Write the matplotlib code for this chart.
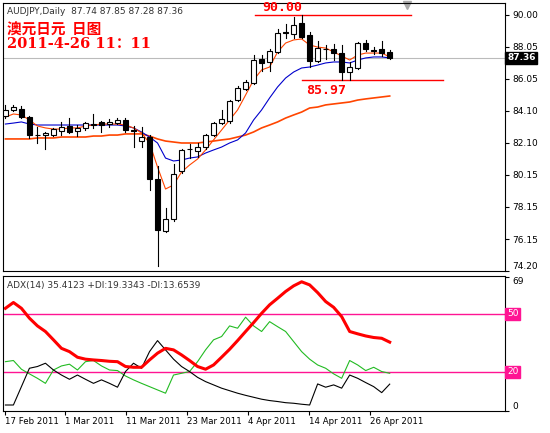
import numpy as np
import matplotlib.pyplot as plt
from matplotlib.patches import Rectangle

plt.rcParams['font.family'] = ['DejaVu Sans', 'Noto Sans CJK SC']

# ---- data ----
opens = [83.77, 84.14, 84.20, 83.70, 82.59, 82.59, 82.59, 82.84, 83.15, 82.84,
         83.03, 83.24, 83.40, 83.27, 83.33, 83.52, 82.93, 82.23, 82.47, 79.88,
         76.67, 77.41, 80.37, 81.73, 81.61, 81.85, 82.59, 83.33, 83.46, 84.75,
         85.43, 85.80, 87.28, 87.10, 87.72, 88.92, 88.83, 89.51, 88.77, 87.16,
         87.93, 87.90, 87.65, 86.48, 86.73, 88.27, 87.84, 87.90, 87.74]
highs = [84.45, 84.45, 84.38, 83.77, 83.09, 82.78, 83.03, 83.40, 83.64, 83.21,
         83.40, 83.89, 83.46, 83.58, 83.64, 83.64, 83.15, 83.09, 82.59, 80.68,
         78.09, 80.80, 81.73, 82.04, 82.10, 82.66, 83.40, 84.14, 84.75, 85.62,
         85.99, 87.53, 87.53, 87.90, 89.14, 89.44, 89.88, 90.00, 88.95, 88.40,
         88.15, 88.21, 88.15, 87.10, 88.33, 88.46, 88.02, 88.40, 87.85]
lows = [83.64, 84.08, 83.67, 82.41, 82.10, 81.73, 82.53, 82.59, 82.72, 82.53,
        82.90, 83.03, 82.78, 83.09, 83.27, 82.78, 81.85, 81.85, 79.20, 74.51,
        76.61, 77.29, 80.25, 81.17, 81.24, 81.73, 82.53, 83.27, 83.33, 84.69,
        85.37, 85.74, 86.54, 86.54, 87.65, 88.58, 88.58, 88.58, 86.79, 87.10,
        87.28, 87.22, 85.97, 86.00, 86.67, 87.78, 87.59, 87.47, 87.28]
closes = [84.14, 84.32, 83.70, 82.59, 82.62, 82.72, 82.96, 83.09, 82.78, 83.03,
          83.33, 83.27, 83.21, 83.40, 83.52, 82.90, 82.87, 82.47, 79.88, 76.73,
          77.41, 80.19, 81.67, 81.70, 81.85, 82.59, 83.33, 83.58, 84.69, 85.49,
          85.86, 87.22, 87.04, 87.78, 88.89, 88.86, 89.38, 88.64, 87.16, 87.96,
          87.90, 87.65, 86.48, 86.79, 88.27, 87.90, 87.78, 87.65, 87.36]

ma_fast = [83.70, 83.89, 83.83, 83.52, 83.15, 83.03, 82.96, 82.96, 83.03, 83.03,
           83.15, 83.21, 83.27, 83.27, 83.27, 83.21, 83.03, 82.72, 82.10, 80.62,
           79.26, 79.51, 80.31, 80.74, 81.11, 81.67, 82.29, 82.90, 83.52, 84.14,
           85.06, 85.99, 86.61, 86.79, 87.72, 88.27, 88.46, 88.52, 88.15, 88.02,
           87.96, 87.72, 87.47, 87.22, 87.53, 87.65, 87.65, 87.65, 87.41]
ma_mid = [83.27, 83.33, 83.40, 83.27, 83.21, 83.21, 83.21, 83.21, 83.21, 83.21,
          83.21, 83.21, 83.21, 83.21, 83.21, 83.15, 83.03, 82.78, 82.47, 82.10,
          81.17, 80.99, 81.05, 81.17, 81.24, 81.48, 81.67, 81.85, 82.10, 82.29,
          82.72, 83.52, 84.14, 84.88, 85.56, 86.11, 86.48, 86.73, 86.79, 86.91,
          87.04, 87.10, 87.10, 87.04, 87.22, 87.35, 87.41, 87.41, 87.35]
ma_slow = [82.35, 82.35, 82.35, 82.35, 82.41, 82.41, 82.41, 82.47, 82.47, 82.47,
           82.47, 82.53, 82.53, 82.59, 82.59, 82.66, 82.66, 82.66, 82.53, 82.35,
           82.22, 82.16, 82.10, 82.10, 82.10, 82.16, 82.22, 82.29, 82.35, 82.47,
           82.59, 82.78, 83.03, 83.21, 83.40, 83.64, 83.83, 84.01, 84.26, 84.32,
           84.45, 84.51, 84.57, 84.63, 84.75, 84.82, 84.88, 84.94, 85.00]

adx = [52.9, 55.9, 52.9, 47.8, 43.8, 40.9, 36.6, 32.2, 30.5, 27.6,
       26.6, 26.2, 25.9, 25.5, 25.3, 22.8, 22.4, 22.4, 26.2, 29.7,
       32.2, 31.4, 28.8, 25.9, 22.8, 21.4, 23.6, 27.6, 31.7, 36.2,
       40.9, 45.5, 50.3, 54.7, 58.1, 61.6, 64.5, 66.6, 65.0, 61.0,
       56.4, 53.4, 48.6, 40.9, 39.7, 38.6, 37.8, 37.4, 35.4]
plus_di = [25.3, 25.9, 21.4, 19.0, 16.7, 14.1, 21.0, 23.1, 24.0, 21.0,
           25.3, 25.9, 23.1, 21.0, 20.7, 17.9, 15.9, 14.1, 12.4, 10.7,
           9.0, 18.4, 19.3, 20.2, 25.3, 31.4, 36.6, 38.3, 43.8, 42.6,
           48.3, 43.8, 40.9, 46.0, 43.4, 40.9, 35.7, 30.5, 26.6, 23.6,
           21.9, 19.0, 16.7, 25.9, 23.6, 20.7, 22.4, 20.2, 19.3]
minus_di = [2.9, 2.9, 12.4, 21.9, 22.8, 24.5, 21.0, 18.4, 16.2, 18.4,
            16.2, 14.1, 15.9, 14.1, 12.1, 20.2, 24.5, 21.9, 30.5, 36.2,
            31.4, 26.6, 22.8, 20.2, 17.2, 15.0, 13.3, 11.6, 10.3, 9.0,
            7.9, 6.9, 5.9, 5.2, 4.7, 4.1, 3.8, 3.3, 2.9, 13.8,
            12.1, 13.3, 11.6, 18.4, 16.7, 14.5, 12.4, 9.3, 13.7]

price_ticks = [90.00, 88.05, 86.05, 84.10, 82.10, 80.15, 78.15, 76.15, 74.20]
date_pos = [0, 7.46, 15.1, 22.7, 30.3, 37.95, 45.6]
date_labels = ['17 Feb 2011', '1 Mar 2011', '11 Mar 2011', '23 Mar 2011',
               '4 Apr 2011', '14 Apr 2011', '26 Apr 2011']
hi_level, lo_level = 90.00, 85.97
last_price = 87.36

# ---- figure ----
fig = plt.figure(figsize=(5.5, 4.33), dpi=100)
ax = fig.add_axes([3/550, 162/433, 502/550, 268/433])
ax2 = fig.add_axes([3/550, 22/433, 502/550, 135/433])

x = np.arange(len(opens))
xl = (-0.3, 62.4)

for i in x:
    o, h, l, c = opens[i], highs[i], lows[i], closes[i]
    ax.plot([i, i], [l, h], color='black', lw=0.8, zorder=3)
    up = c >= o
    ax.add_patch(Rectangle((i - 0.3, min(o, c)), 0.6, max(abs(c - o), 0.03),
                           facecolor='white' if up else 'black',
                           edgecolor='black', lw=0.8, zorder=4))

ax.plot(x, ma_slow, color='#FF4500', lw=1.2, zorder=2)
ax.plot(x, ma_mid, color='#0000CC', lw=0.8, zorder=2)
ax.plot(x, ma_fast, color='#FF4500', lw=0.8, zorder=2)

ax.axhline(last_price, color='#BBBBBB', lw=0.8, zorder=1)
ax.plot([31.2, 50.6], [hi_level, hi_level], color='red', lw=1)
ax.plot([37.1, 54.6], [lo_level, lo_level], color='red', lw=1)
ax.text(34.6, hi_level + 0.05, '%.2f' % hi_level, color='red', fontsize=9.5,
        fontweight='bold', family='DejaVu Sans Mono', ha='center', va='bottom')
ax.text(40.0, lo_level - 0.2, '%.2f' % lo_level, color='red', fontsize=9.5,
        fontweight='bold', family='DejaVu Sans Mono', ha='center', va='top')
ax.plot([50.1], [90.62], marker='v', color='#AAAAAA', ms=6, clip_on=False)

ax.set_xlim(*xl)
ax.set_ylim(74.20, 90.74)
ax.set_xticks([])
ax.yaxis.tick_right()
ax.set_yticks(price_ticks)
ax.set_yticklabels(['%.2f' % t for t in price_ticks], fontsize=6.5)
ax.get_yticklabels()[-1].set_va('bottom')
ax.tick_params(axis='y', length=3, pad=2)
ax.text(1.004, last_price, '%.2f' % last_price, transform=ax.get_yaxis_transform(),
        color='white', fontsize=6.5, fontweight='bold', va='center', ha='left',
        bbox=dict(facecolor='black', edgecolor='black', pad=1.2))

ax.text(0.008, 0.985, 'AUDJPY,Daily  87.74 87.85 87.28 87.36', transform=ax.transAxes,
        fontsize=6.5, color='#333333', va='top')
ax.text(0.008, 0.93, '澳元日元  日图', transform=ax.transAxes, fontsize=10.5,
        color='red', fontweight='bold', va='top', family=['Noto Sans CJK SC'])
ax.text(0.008, 0.875, '2011-4-26 11：11', transform=ax.transAxes, fontsize=10.5,
        color='red', fontweight='bold', va='top', family=['DejaVu Serif', 'Noto Sans CJK SC'])

# ---- ADX panel ----
ax2.axhline(50, color='#FF1493', lw=1)
ax2.axhline(20, color='#FF1493', lw=1)
ax2.plot(x, plus_di, color='#22BB22', lw=0.8)
ax2.plot(x, minus_di, color='black', lw=0.8)
ax2.plot(x, adx, color='red', lw=2.2)
ax2.set_xlim(*xl)
ax2.set_ylim(-0.2, 69.6)
ax2.yaxis.tick_right()
ax2.set_yticks([69, 0])
ax2.set_yticklabels(['69', '0'], fontsize=6.5)
ax2.get_yticklabels()[0].set_va('top')
ax2.get_yticklabels()[1].set_va('bottom')
ax2.tick_params(axis='y', length=3, pad=2)
for lv in (50, 20):
    ax2.text(1.004, lv, str(lv), transform=ax2.get_yaxis_transform(), color='white',
             fontsize=6.5, va='center', ha='left',
             bbox=dict(facecolor='#FF1493', edgecolor='#FF1493', pad=1.2))
ax2.set_xticks(date_pos)
ax2.set_xticklabels(date_labels, fontsize=6.2, ha='left')
ax2.tick_params(axis='x', length=3, pad=1)
ax2.text(0.008, 0.96, 'ADX(14) 35.4123 +DI:19.3343 -DI:13.6539', transform=ax2.transAxes,
         fontsize=6.5, color='#333333', va='top')

fig.savefig('out.png', dpi=100)
